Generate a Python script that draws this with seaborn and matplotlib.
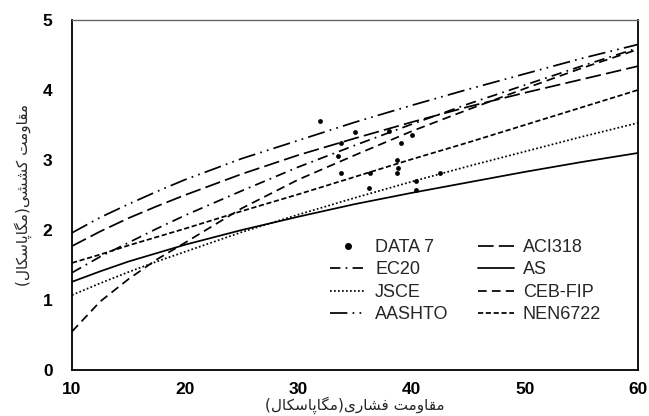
import numpy as np
import pandas as pd
import matplotlib
matplotlib.use("Agg")
import matplotlib.pyplot as plt
import seaborn as sns
from matplotlib.lines import Line2D

# ---------------- data ----------------
fc = [10, 12.5, 15, 17.5, 20, 25, 30, 35, 40, 45, 50, 55, 60]
aci318 = [1.77, 1.98, 2.17, 2.34, 2.50, 2.80, 3.07, 3.31, 3.54, 3.76, 3.96, 4.15, 4.34]
ec20 = [1.39, 1.62, 1.82, 2.02, 2.21, 2.56, 2.90, 3.21, 3.51, 3.80, 4.07, 4.34, 4.60]
as_code = [1.26, 1.41, 1.55, 1.67, 1.79, 2.00, 2.19, 2.37, 2.53, 2.68, 2.83, 2.97, 3.10]
jsce = [1.07, 1.24, 1.40, 1.55, 1.69, 1.97, 2.22, 2.46, 2.69, 2.91, 3.12, 3.33, 3.53]
ceb_fip = [0.55, 0.98, 1.30, 1.58, 1.82, 2.31, 2.72, 3.07, 3.41, 3.72, 4.02, 4.31, 4.58]
aashto = [1.96, 2.18, 2.37, 2.55, 2.72, 3.02, 3.28, 3.54, 3.78, 4.01, 4.23, 4.45, 4.65]
nen6722 = [1.53, 1.65, 1.78, 1.90, 2.02, 2.27, 2.51, 2.76, 3.01, 3.25, 3.50, 3.75, 4.00]

data_fc = [31.9, 35.0, 33.8, 33.5, 33.8, 36.2, 36.3, 38.0, 40.0, 39.1, 38.7, 38.8, 38.7, 42.5, 40.4, 40.4]
data_ft = [3.56, 3.40, 3.24, 3.06, 2.82, 2.60, 2.82, 3.41, 3.36, 3.24, 3.00, 2.88, 2.82, 2.82, 2.70, 2.57]

x_ticks = [10, 20, 30, 40, 50, 60]
y_ticks = [0, 1, 2, 3, 4, 5]
x_label = "مقاومت فشاری(مگاپاسکال)"
y_label = "مقاومت کششی(مگاپاسکال)"

# ------------- Persian shaping (matplotlib has no bidi/shaping) -------------
FORMS = {
    'ا': ('\uFE8D', '\uFE8E', None, None),
    'و': ('\uFEED', '\uFEEE', None, None),
    'ر': ('\uFEAD', '\uFEAE', None, None),
    'م': ('\uFEE1', '\uFEE2', '\uFEE3', '\uFEE4'),
    'ق': ('\uFED5', '\uFED6', '\uFED7', '\uFED8'),
    'ت': ('\uFE95', '\uFE96', '\uFE97', '\uFE98'),
    'ف': ('\uFED1', '\uFED2', '\uFED3', '\uFED4'),
    'ش': ('\uFEB5', '\uFEB6', '\uFEB7', '\uFEB8'),
    'س': ('\uFEB1', '\uFEB2', '\uFEB3', '\uFEB4'),
    'ل': ('\uFEDD', '\uFEDE', '\uFEDF', '\uFEE0'),
    'ی': ('\uFBFC', '\uFBFD', '\uFBFE', '\uFBFF'),
    'گ': ('\uFB92', '\uFB93', '\uFB94', '\uFB95'),
    'پ': ('\uFB56', '\uFB57', '\uFB58', '\uFB59'),
    'ک': ('\uFB8E', '\uFB8F', '\uFB90', '\uFB91'),
}


def shape(s):
    out = []
    n = len(s)
    for i, c in enumerate(s):
        if c not in FORMS:
            out.append(c)
            continue
        f = FORMS[c]
        prev = s[i - 1] if i > 0 else None
        nxt = s[i + 1] if i < n - 1 else None
        jp = prev in FORMS and FORMS[prev][2] is not None
        jn = f[2] is not None and nxt in FORMS
        if jp and jn:
            g = f[3]
        elif jp:
            g = f[1]
        elif jn:
            g = f[2]
        else:
            g = f[0]
        out.append(g)
    vis = ''.join(reversed(out))
    return vis.translate(str.maketrans('()', ')('))


# ---------------- plot ----------------
sns.set_style("white")
plt.rcParams['font.family'] = ['Liberation Sans', 'DejaVu Sans']

fig = plt.figure(figsize=(6.49, 4.16), dpi=100)
ax = fig.add_axes([0.111, 0.1106, 0.872, 0.8414])

series = [
    ("ACI318", aci318, (0, (9, 3))),
    ("EC20", ec20, (0, (6, 3, 1, 3))),
    ("AS", as_code, '-'),
    ("JSCE", jsce, (0, (1, 1.3))),
    ("CEB-FIP", ceb_fip, (0, (5, 3))),
    ("AASHTO", aashto, (0, (10, 3, 1, 3, 1, 3))),
    ("NEN6722", nen6722, (0, (3, 1.5))),
]
handles = {}
for name, vals, ls in series:
    sns.lineplot(x=fc, y=vals, ax=ax, color='black', linewidth=1.25,
                 linestyle=ls, label=name, legend=False)
    handles[name] = Line2D([], [], color='black', linewidth=1.25, linestyle=ls)

sns.scatterplot(x=data_fc, y=data_ft, ax=ax, color='black', s=12,
                edgecolor='black', linewidth=0, legend=False, zorder=5)
handles["DATA 7"] = Line2D([], [], color='black', marker='o', markersize=4,
                           linestyle='none')

order = ["DATA 7", "EC20", "JSCE", "AASHTO", "ACI318", "AS", "CEB-FIP", "NEN6722"]
ax.legend([handles[k] for k in order], order, ncol=2, frameon=False,
          loc='upper left', bbox_to_anchor=(0.44, 0.40),
          prop={'family': 'Liberation Sans', 'size': 13},
          handlelength=2.0, handletextpad=0.5, columnspacing=1.6,
          labelspacing=0.3, borderpad=0.0)

ax.set_xlim(10, 60)
ax.set_ylim(0, 5)
ax.set_xticks(x_ticks)
ax.set_yticks(y_ticks)
ax.tick_params(axis='both', direction='in', length=4, width=1.2,
               colors='black', labelsize=12.5)
ax.tick_params(axis='x', pad=9)
ax.tick_params(axis='y', pad=14)
for lab in ax.get_xticklabels() + ax.get_yticklabels():
    lab.set_fontweight('bold')

for side in ['left', 'bottom', 'right']:
    ax.spines[side].set_color('black')
    ax.spines[side].set_linewidth(1.3)
ax.spines['top'].set_color('#666666')
ax.spines['top'].set_linewidth(1.0)

ax.set_xlabel(shape(x_label), family=['DejaVu Sans'], fontsize=11, labelpad=-1)
ax.set_ylabel(shape(y_label), family=['DejaVu Sans'], fontsize=11, labelpad=8)

fig.savefig("out.png", dpi=100, facecolor='white')
